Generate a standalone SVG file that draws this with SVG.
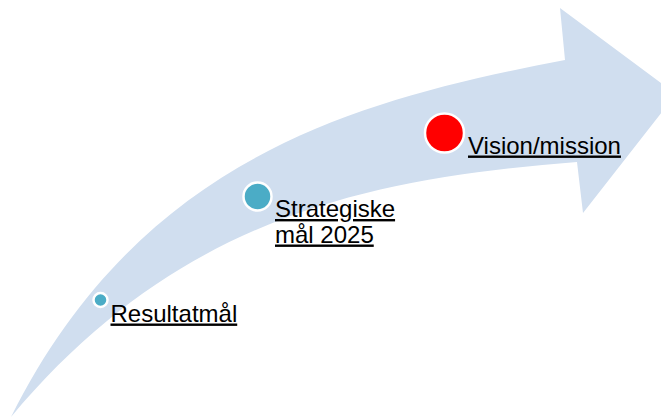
<svg xmlns="http://www.w3.org/2000/svg" width="661" height="418" viewBox="0 0 661 418">
<style>
.lbl{font-family:"Liberation Sans",Arial,sans-serif;font-size:24px;fill:#000;text-decoration:underline;}
.dot{stroke:#fff;stroke-width:2.5;}
</style>
<rect width="661" height="418" fill="#fff"/>
<g id="arrow">
<path d="M 11 417 C 141 157 357 100 565 60 L 560 8 L 676 94 L 583 213 L 577 162 C 377 178 181 213 11 417 Z" fill="#D0DEEF"/>
</g>
<g id="resultatmal">
<circle class="dot" cx="100.5" cy="300" r="7" fill="#4BACC6"/>
<text class="lbl" x="110.5" y="321.5">Resultatmål</text>
</g>
<g id="strategiske">
<circle class="dot" cx="257.5" cy="196.5" r="14" fill="#4BACC6"/>
<text class="lbl" x="275" y="217">Strategiske</text>
<text class="lbl" x="275" y="242.5">mål 2025</text>
</g>
<g id="vision">
<circle class="dot" cx="444.5" cy="133" r="19.5" fill="#FF0000"/>
<text class="lbl" x="468" y="153.5">Vision/mission</text>
</g>
<g id="connectors"></g>
</svg>
